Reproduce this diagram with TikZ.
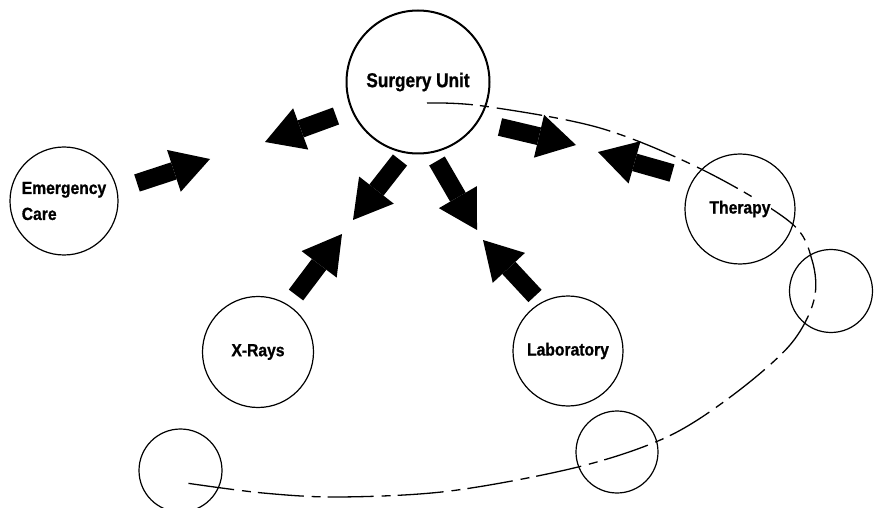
\documentclass[tikz,border=0pt]{standalone}
\usepackage{fontspec}
\setmainfont{Liberation Sans}
\newfontfamily\labelfont{Liberation Sans}[FakeStretch=0.89,FakeBold=1]
\newfontfamily\titlefont{Liberation Sans}[FakeStretch=0.86,FakeBold=1]
\usetikzlibrary{arrows.meta}

\begin{document}
\begin{tikzpicture}[x=1pt,y=-1pt,
  station/.style={circle,draw,line width=1.2pt,minimum size=#1,inner sep=0pt,
    font=\labelfont\bfseries\fontsize{17.6}{26}\selectfont,align=left},
  blockarrow/.style={line width=18pt,
    -{Triangle[length=38pt,width=44pt,line width=0pt]}},
  route/.style={line width=1.3pt,dash pattern=on 46pt off 7pt on 9pt off 8pt}]
\useasboundingbox (0,0) rectangle (879,508);

% departments
\node[station=143pt,line width=2pt,font=\titlefont\bfseries\fontsize{20}{22}\selectfont]
  (surgery) at (418,82) {Surgery Unit};
\node[station=108pt] (emergency) at (64,201) {Emergency\\Care};
\node[station=111pt] (xrays) at (258,352) {X-Rays};
\node[station=110pt] (lab) at (568,351) {Laboratory};
\node[station=110pt] (therapy) at (740,209) {};

% unlabelled stations along the route
\node[station=83pt] (stopA) at (831,291) {};
\node[station=82pt] (stopB) at (617,452) {};
\node[station=83pt] (stopC) at (180.5,470.5) {};

% dash-dot route looping from the surgery unit round to the lower left
\draw[route] plot[smooth,tension=0.55] coordinates {
  (427,103) (483,106) (600,128) (703,170) (790,222) (812,260) (814,300)
  (790,345) (733,395) (667,437) (578,467) (450,491) (340,497) (263,493)
  (186,483)};

\node[fill=white,inner sep=1pt,font=\labelfont\bfseries\fontsize{17.6}{20}\selectfont]
  (therapylabel) at (therapy) {Therapy};

% arrow end points
\coordinate (sA) at (336,116);  \coordinate (tA) at (265,142);
\coordinate (sB) at (400,160);  \coordinate (tB) at (353,220);
\coordinate (sC) at (437,161);  \coordinate (tC) at (477,230);
\coordinate (sD) at (500,127);  \coordinate (tD) at (576,145);
\coordinate (sE) at (672,173);  \coordinate (tE) at (598,152);
\coordinate (sF) at (296,295);  \coordinate (tF) at (342,234);
\coordinate (sG) at (535,296);  \coordinate (tG) at (483,240);
\coordinate (sH) at (137,183);  \coordinate (tH) at (210,159);

% flows
\foreach \k in {A,B,C,D,E,F,G,H}
  \draw[blockarrow] (s\k) -- (t\k);
\end{tikzpicture}
\end{document}
